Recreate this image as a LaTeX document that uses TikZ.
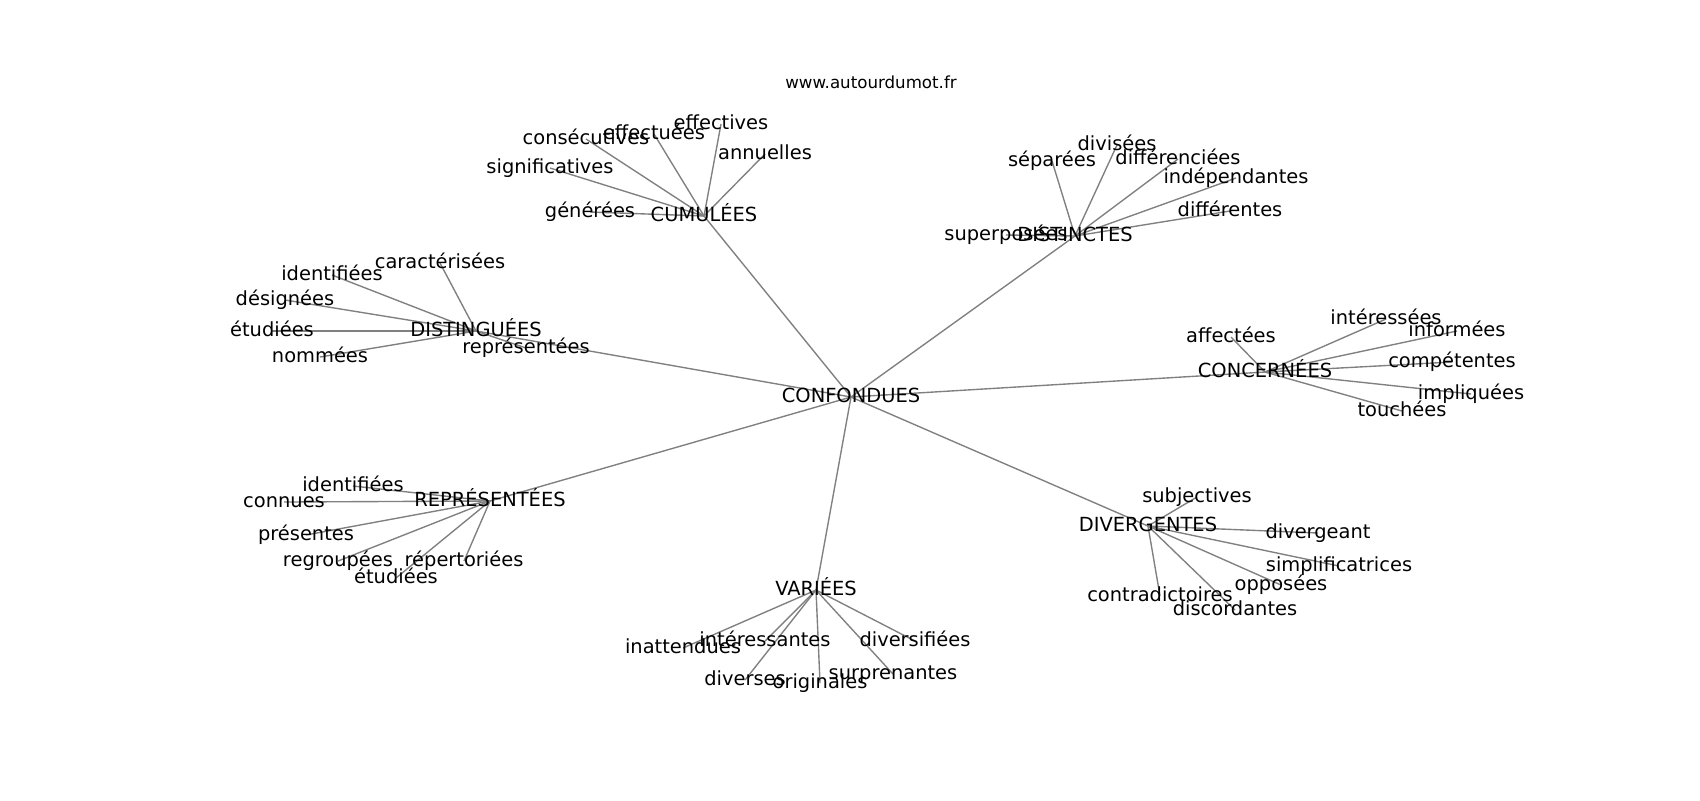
\documentclass[tikz,border=0pt]{standalone}
\usepackage{fontspec}
\setmainfont{DejaVu Sans}
\usetikzlibrary{backgrounds}

\begin{document}
\begin{tikzpicture}[
         x=0.5pt, y=-0.5pt,
         word/.style = {inner sep=0pt, text height=0.76em, text depth=0.208em,
         font=\fontsize{9.72}{11}\selectfont},
         link/.style = {gray, line width=0.69pt},
         sitename/.style = {inner sep=0pt, anchor=base,
         font=\fontsize{8.33}{10}\selectfont}
]
   \useasboundingbox (0,0) rectangle (1700,800);

   \node[sitename] (site) at (871,88) {www.autourdumot.fr};

   % centre
   \node[word] (cf) at (851,397) {CONFONDUES};

   % cumulees
   \node[word] (cu)  at (704,216) {CUMULÉES};
   \node[word] (cu1) at (586,139) {consécutives};
   \node[word] (cu2) at (654,134) {effectuées};
   \node[word] (cu3) at (721,124) {effectives};
   \node[word] (cu4) at (765,154) {annuelles};
   \node[word] (cu5) at (550,168) {significatives};
   \node[word] (cu6) at (590,212) {générées};

   % distinctes
   \node[word] (di)  at (1075,236) {DISTINCTES};
   \node[word] (di1) at (1052,161) {séparées};
   \node[word] (di2) at (1117,145) {divisées};
   \node[word] (di3) at (1178,159) {différenciées};
   \node[word] (di4) at (1236,178) {indépendantes};
   \node[word] (di5) at (1230,211) {différentes};
   \node[word] (di6) at (1006,235) {superposées};

   % distinguees
   \node[word] (dg)  at (476,331) {DISTINGUÉES};
   \node[word] (dg1) at (440,263) {caractérisées};
   \node[word] (dg2) at (332,275) {identifiées};
   \node[word] (dg3) at (285,300) {désignées};
   \node[word] (dg4) at (272,331) {étudiées};
   \node[word] (dg5) at (320,357) {nommées};
   \node[word] (dg6) at (526,348) {représentées};

   % concernees
   \node[word] (cn)  at (1265,372) {CONCERNÉES};
   \node[word] (cn1) at (1231,337) {affectées};
   \node[word] (cn2) at (1386,319) {intéressées};
   \node[word] (cn3) at (1457,331) {informées};
   \node[word] (cn4) at (1452,362) {compétentes};
   \node[word] (cn5) at (1471,394) {impliquées};
   \node[word] (cn6) at (1402,411) {touchées};

   % representees
   \node[word] (rp)  at (490,501) {REPRÉSENTÉES};
   \node[word] (rp1) at (353,486) {identifiées};
   \node[word] (rp2) at (284,502) {connues};
   \node[word] (rp3) at (306,535) {présentes};
   \node[word] (rp4) at (338,561) {regroupées};
   \node[word] (rp5) at (396,578) {étudiées};
   \node[word] (rp6) at (464,561) {répertoriées};

   % variees
   \node[word] (va)  at (816,590) {VARIÉES};
   \node[word] (va1) at (683,648) {inattendues};
   \node[word] (va2) at (765,641) {intéressantes};
   \node[word] (va3) at (745,680) {diverses};
   \node[word] (va4) at (820,683) {originales};
   \node[word] (va5) at (893,674) {surprenantes};
   \node[word] (va6) at (915,641) {diversifiées};

   % divergentes
   \node[word] (dv)  at (1148,526) {DIVERGENTES};
   \node[word] (dv1) at (1197,497) {subjectives};
   \node[word] (dv2) at (1318,533) {divergeant};
   \node[word] (dv3) at (1339,566) {simplificatrices};
   \node[word] (dv4) at (1281,585) {opposées};
   \node[word] (dv5) at (1160,596) {contradictoires};
   \node[word] (dv6) at (1235,610) {discordantes};

   \begin{scope}[on background layer]
      \foreach \h in {cu,di,dg,cn,rp,va,dv} {
         \draw[link] (cf.center) -- (\h.center);
         \foreach \i in {1,...,6}
            \draw[link] (\h.center) -- (\h\i.center);
      }
   \end{scope}
\end{tikzpicture}
\end{document}
